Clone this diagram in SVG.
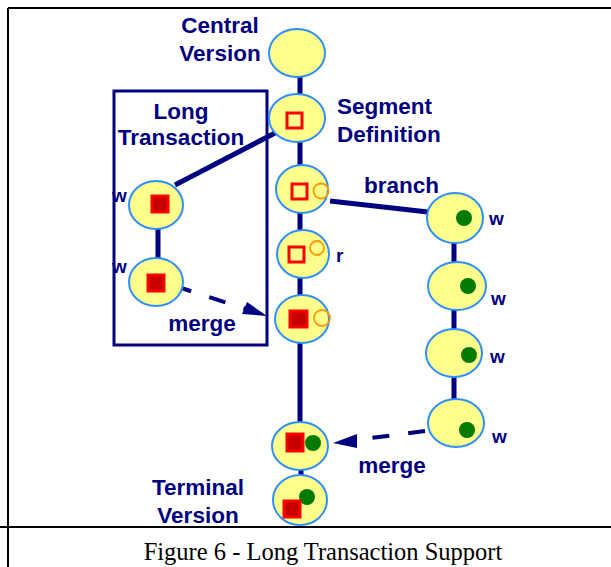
<svg xmlns="http://www.w3.org/2000/svg" width="611" height="567" viewBox="0 0 611 567">
  <style>
    .lbl { font-family: "Liberation Sans", Arial, sans-serif; font-weight: bold; font-size: 22.5px; fill: #000080; }
    .sm { font-family: "Liberation Sans", Arial, sans-serif; font-weight: bold; font-size: 19px; fill: #000080; }
    .cap { font-family: "Liberation Serif", "Times New Roman", serif; font-size: 24.5px; fill: #000; }
    .ver { fill: #ffff8c; stroke: #2f8fff; stroke-width: 2; }
    .link { stroke: #000080; stroke-width: 5; fill: none; }
    .dash { stroke: #000080; stroke-width: 4; fill: none; stroke-dasharray: 17 19; }
    .sq { fill: none; stroke: #ff0000; stroke-width: 3; }
    .sqf { fill: #c80000; stroke: #ff0000; stroke-width: 3; }
    .oc { fill: none; stroke: #ff9900; stroke-width: 1.8; }
    .gd { fill: #007a00; }
    .rule { stroke: #000; stroke-width: 2; }
  </style>

  <!-- table frame -->
  <g id="frame">
    <line class="rule" x1="8" y1="8" x2="611" y2="8"/>
    <line class="rule" x1="8" y1="8" x2="8" y2="567"/>
    <line class="rule" x1="0" y1="527" x2="611" y2="527"/>
  </g>

  <!-- long transaction container -->
  <g id="long-transaction-box">
    <rect x="114" y="91" width="153" height="254" fill="none" stroke="#000080" stroke-width="3"/>
    <text class="lbl" x="181" y="119" text-anchor="middle">Long</text>
    <text class="lbl" x="181" y="145" text-anchor="middle">Transaction</text>
  </g>

  <!-- connectors -->
  <g id="connectors">
    <line class="link" x1="300" y1="76" x2="300" y2="424"/>
    <line class="link" x1="301" y1="468" x2="301" y2="478"/>
    <line class="link" x1="175" y1="185" x2="275" y2="133"/>
    <line class="link" x1="158" y1="228" x2="158" y2="259"/>
    <line class="link" x1="330" y1="201" x2="428" y2="212"/>
    <line class="link" x1="454" y1="242" x2="454" y2="263"/>
    <line class="link" x1="454" y1="309" x2="454" y2="330"/>
    <line class="link" x1="454" y1="377" x2="454" y2="400"/>
    <line class="dash" x1="175" y1="286" x2="246" y2="309"/>
    <polygon points="267,316 242,314 247,302" fill="#000080"/>
    <line class="dash" x1="425" y1="431" x2="356" y2="440"/>
    <polygon points="333,443 357,434 357,448" fill="#000080"/>
  </g>

  <g id="central-version">
    <ellipse class="ver" cx="297" cy="53" rx="28" ry="24"/>
    <text class="lbl" x="220" y="33" text-anchor="middle">Central</text>
    <text class="lbl" x="220" y="61" text-anchor="middle">Version</text>
  </g>

  <g id="segment-definition">
    <ellipse class="ver" cx="297" cy="118" rx="28" ry="24"/>
    <rect class="sq" x="287" y="113" width="15" height="15"/>
    <text class="lbl" x="337" y="114">Segment</text>
    <text class="lbl" x="337" y="142">Definition</text>
  </g>

  <g id="branch-point">
    <ellipse class="ver" cx="302" cy="189" rx="26" ry="24"/>
    <rect class="sq" x="292" y="184" width="15" height="15"/>
    <circle class="oc" cx="321" cy="191" r="7.5"/>
    <text class="lbl" x="364" y="193">branch</text>
  </g>

  <g id="read-version">
    <ellipse class="ver" cx="303" cy="254" rx="26" ry="24"/>
    <rect class="sq" x="289" y="247" width="15" height="15"/>
    <circle class="oc" cx="317" cy="248" r="7"/>
    <text class="sm" x="336" y="262">r</text>
  </g>

  <g id="merged-long">
    <ellipse class="ver" cx="302" cy="319" rx="27" ry="24"/>
    <rect class="sqf" x="290" y="311" width="17" height="16"/>
    <circle class="oc" cx="322" cy="318" r="8"/>
  </g>

  <g id="merged-branch">
    <ellipse class="ver" cx="300" cy="446" rx="28" ry="24"/>
    <rect class="sqf" x="287" y="434" width="16" height="17"/>
    <circle class="gd" cx="313" cy="443" r="8"/>
    <text class="lbl" x="392" y="473" text-anchor="middle">merge</text>
  </g>

  <g id="terminal-version">
    <ellipse class="ver" cx="300" cy="500" rx="27" ry="25"/>
    <circle class="gd" cx="307" cy="497" r="8"/>
    <rect class="sqf" x="284" y="501" width="16" height="16"/>
    <text class="lbl" x="198" y="495" text-anchor="middle">Terminal</text>
    <text class="lbl" x="198" y="523" text-anchor="middle">Version</text>
  </g>

  <g id="long-write-1">
    <ellipse class="ver" cx="156" cy="205" rx="27" ry="24"/>
    <rect class="sqf" x="152" y="196" width="16" height="16"/>
    <text class="sm" x="112" y="202">w</text>
  </g>

  <g id="long-write-2">
    <ellipse class="ver" cx="156" cy="282" rx="27" ry="24"/>
    <rect class="sqf" x="148" y="275" width="16" height="16"/>
    <text class="sm" x="112" y="273">w</text>
    <text class="lbl" x="202" y="331" text-anchor="middle">merge</text>
  </g>

  <g id="branch-write-1">
    <ellipse class="ver" cx="455" cy="218" rx="28" ry="25"/>
    <circle class="gd" cx="464" cy="218" r="8"/>
    <text class="sm" x="489" y="225">w</text>
  </g>

  <g id="branch-write-2">
    <ellipse class="ver" cx="457" cy="286" rx="29" ry="24"/>
    <circle class="gd" cx="468" cy="286" r="8"/>
    <text class="sm" x="491" y="305">w</text>
  </g>

  <g id="branch-write-3">
    <ellipse class="ver" cx="454" cy="353" rx="28" ry="24"/>
    <circle class="gd" cx="469" cy="355" r="8"/>
    <text class="sm" x="490" y="363">w</text>
  </g>

  <g id="branch-write-4">
    <ellipse class="ver" cx="456" cy="423" rx="28" ry="24"/>
    <circle class="gd" cx="467" cy="430" r="8"/>
    <text class="sm" x="492" y="443">w</text>
  </g>

  <text class="cap" x="323" y="560" text-anchor="middle">Figure 6 - Long Transaction Support</text>
</svg>
